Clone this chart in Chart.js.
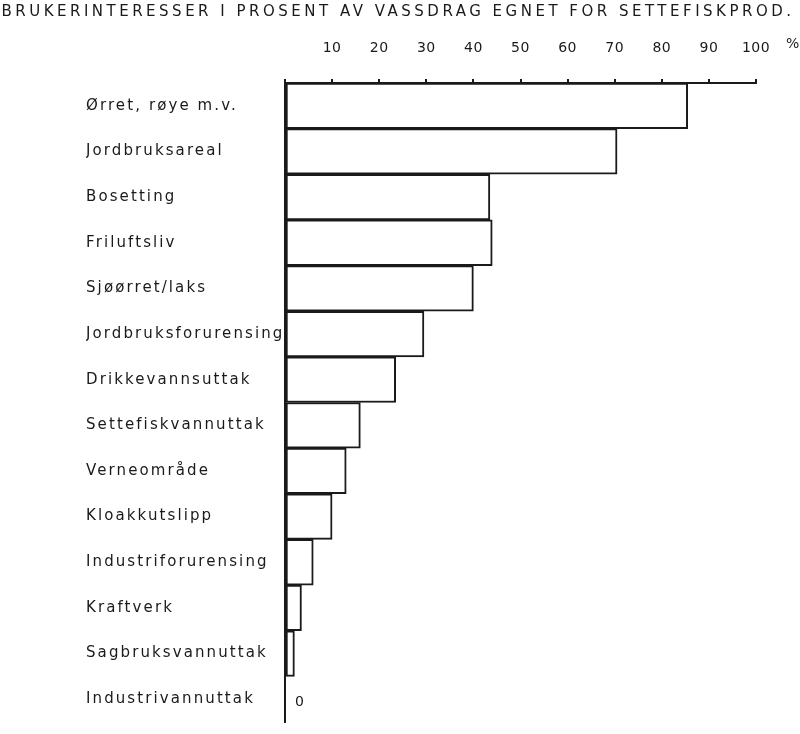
<!DOCTYPE html>
<html lang="no">
<head>
    <meta charset="UTF-8">
    <title>Brukerinteresser</title>
    <style>
        body {
            margin: 0;
            background: #fff;
        }
        .wrap {
            width: 800px;
            height: 734px;
        }
    </style>
    <script src="https://cdn.jsdelivr.net/npm/chart.js"></script>
</head>
<body>
    <div class="wrap">
        <canvas id="chart"></canvas>
    </div>
    <script>
        // Data lest av figuren
        const categories = [
            'Ørret, røye m.v.',
            'Jordbruksareal',
            'Bosetting',
            'Friluftsliv',
            'Sjøørret/laks',
            'Jordbruksforurensing',
            'Drikkevannsuttak',
            'Settefiskvannuttak',
            'Verneområde',
            'Kloakkutslipp',
            'Industriforurensing',
            'Kraftverk',
            'Sagbruksvannuttak',
            'Industrivannuttak'
        ];
        const percent = [85.5, 70.5, 43.5, 44, 40, 29.5, 23.5, 16, 13, 10, 6, 3.5, 2, 0];
        const tickValues = [10, 20, 30, 40, 50, 60, 70, 80, 90, 100];
        const titleText = 'BRUKERINTERESSER I PROSENT AV VASSDRAG EGNET FOR SETTEFISKPROD.';

        const ink = '#1a1a1a';
        const font = 'DejaVu Sans';

        // sperret skrift: egen avstand per akse
        function withSpacing(scale, px) {
            if (scale._spaced) return;
            const orig = scale.drawLabels.bind(scale);
            scale.drawLabels = function(area) {
                const c = this.ctx;
                const prev = c.letterSpacing;
                c.letterSpacing = px;
                orig(area);
                c.letterSpacing = prev;
            };
            scale._spaced = true;
        }

        const extras = {
            id: 'extras',
            afterUpdate(chart) {
                withSpacing(chart.scales.x, '0.5px');
                withSpacing(chart.scales.y, '2.1px');
            },
            afterDraw(chart) {
                const ctx = chart.ctx;
                const x = chart.scales.x;
                const y = chart.scales.y;
                ctx.save();
                ctx.fillStyle = ink;
                ctx.textBaseline = 'middle';

                // tittel over hele bredden
                ctx.letterSpacing = '3.5px';
                ctx.font = '15px "' + font + '"';
                ctx.textAlign = 'center';
                ctx.fillText(titleText, 398, 12);

                // "%" etter 100 og "0" ved tomme stolper
                ctx.letterSpacing = '0px';
                ctx.font = '14px "' + font + '"';
                ctx.textAlign = 'left';
                ctx.fillText('%', x.getPixelForValue(100) + 30, 44);
                percent.forEach((v, i) => {
                    if (v === 0) {
                        ctx.fillText('0', x.getPixelForValue(0) + 10, y.getPixelForValue(i) + 3);
                    }
                });
                ctx.restore();
            }
        };

        new Chart(document.getElementById('chart'), {
            type: 'bar',
            data: {
                labels: categories,
                datasets: [{
                    data: percent,
                    backgroundColor: '#fff',
                    borderColor: ink,
                    borderWidth: 2,
                    borderSkipped: false,
                    categoryPercentage: 1,
                    barPercentage: 1
                }]
            },
            options: {
                indexAxis: 'y',
                responsive: true,
                maintainAspectRatio: false,
                animation: false,
                layout: {
                    padding: { left: 86, right: 44, top: 30, bottom: 0 }
                },
                plugins: {
                    legend: { display: false },
                    tooltip: { enabled: false },
                    title: { display: false }
                },
                scales: {
                    x: {
                        position: 'top',
                        min: 0,
                        max: 100,
                        afterBuildTicks(scale) {
                            scale.ticks = [0, ...tickValues].map(v => ({ value: v }));
                        },
                        afterFit(scale) {
                            scale.height = 53;
                        },
                        ticks: {
                            color: ink,
                            font: { family: font, size: 14 },
                            padding: 22,
                            maxRotation: 0,
                            callback: v => v === 0 ? '' : String(v)
                        },
                        grid: {
                            drawOnChartArea: false,
                            drawTicks: true,
                            tickLength: 4,
                            color: ink,
                            lineWidth: 2
                        },
                        border: { display: true, color: ink, width: 2 }
                    },
                    y: {
                        afterFit(scale) {
                            scale.width = 199;
                        },
                        ticks: {
                            color: ink,
                            crossAlign: 'far',
                            font: { family: font, size: 15 }
                        },
                        grid: { display: false },
                        border: { display: true, color: ink, width: 2 }
                    }
                }
            },
            plugins: [extras]
        });
    </script>
</body>
</html>
